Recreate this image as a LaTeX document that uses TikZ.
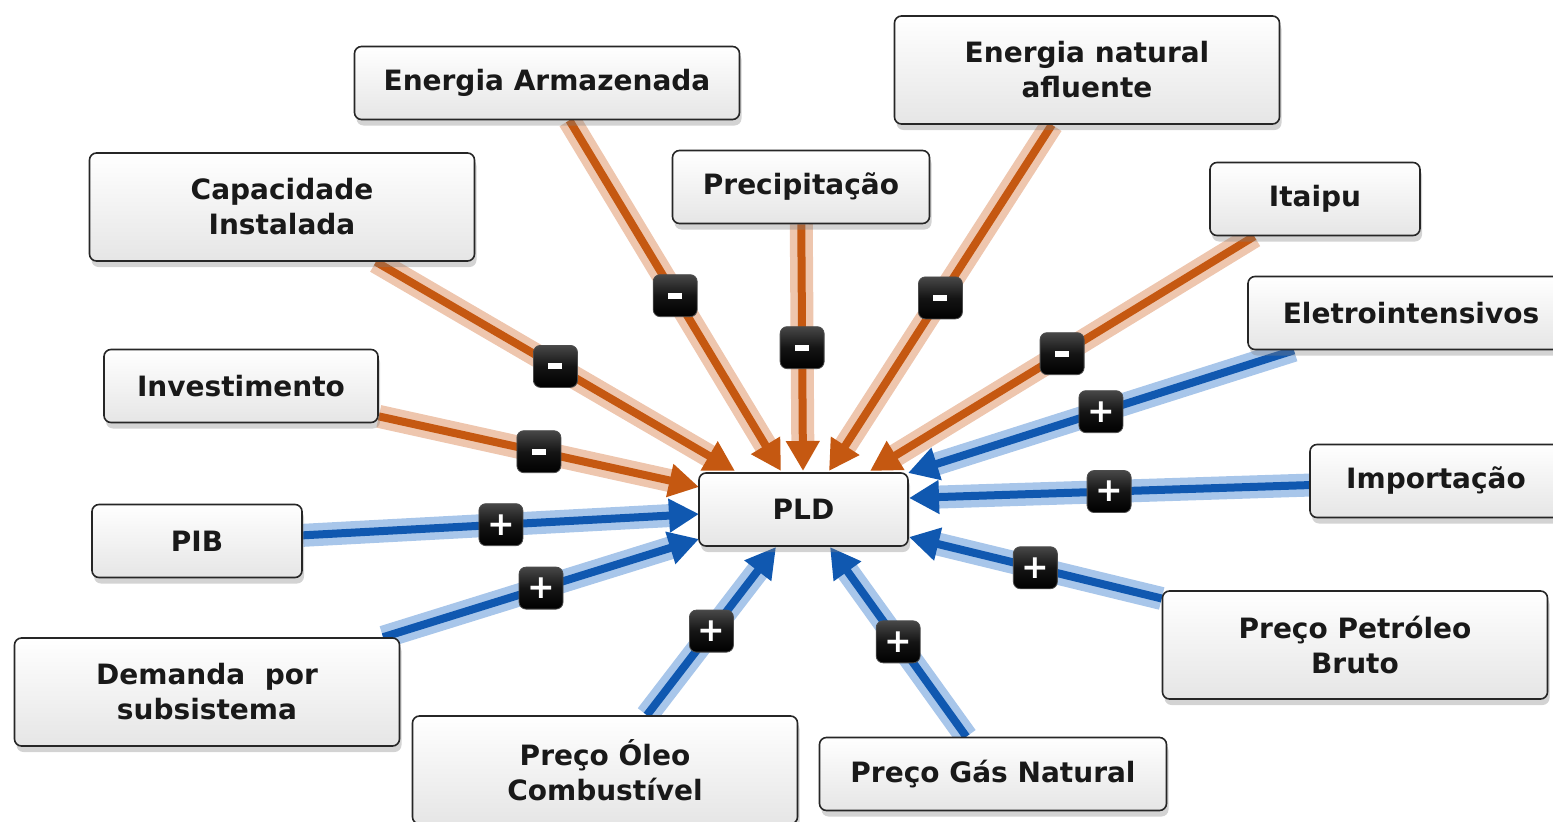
\documentclass[tikz,border=0pt]{standalone}
\usepackage{fontspec}
\setmainfont{DejaVu Sans}
\usetikzlibrary{arrows.meta,shadows,backgrounds}

\definecolor{orcore}{RGB}{197,88,17}
\definecolor{orhalo}{RGB}{238,198,174}
\definecolor{blcore}{RGB}{16,88,176}
\definecolor{blhalo}{RGB}{168,198,234}
\definecolor{boxline}{RGB}{38,38,38}

\tikzset{
  factor/.style={draw=boxline, line width=1.6pt, rounded corners=7pt,
    top color=white, bottom color=black!10,
    drop shadow={shadow xshift=2pt, shadow yshift=-6pt, opacity=0.35},
    font=\fontsize{28}{35}\selectfont\bfseries, align=center,
    inner sep=0pt, text=black!90},
  one/.style={minimum height=73pt},
  two/.style={minimum height=108pt},
  sign/.style={draw=black!70, line width=0.8pt, rounded corners=7pt,
    top color=black!72, bottom color=black, middle color=black!92,
    minimum width=44pt, minimum height=42pt, inner sep=0pt, text=white,
    font=\fontsize{33}{33}\selectfont\bfseries},
  decr/.style={orcore, line width=8pt, -{Triangle[length=30pt,width=32pt]},
    preaction={draw=orhalo, line width=23pt, -, shorten >=26pt}},
  incr/.style={blcore, line width=8pt, -{Triangle[length=30pt,width=32pt]},
    preaction={draw=blhalo, line width=23pt, -, shorten >=26pt}},
}
\newcommand{\minussign}{\rule{14pt}{6pt}}

\begin{document}
\begin{tikzpicture}[x=1pt,y=-1pt]
\useasboundingbox (0,0) rectangle (1553,822);
\clip (0,0) rectangle (1553,822);

% factor boxes
\node[factor, one, minimum width=385pt] (earm)   at (547,83)    {Energia Armazenada};
\node[factor, two, minimum width=385pt] (ena)    at (1087,70)   {Energia natural\\afluente};
\node[factor, two, minimum width=385pt] (cap)    at (282,207)   {Capacidade\\Instalada};
\node[factor, one, minimum width=257pt] (prec)   at (801,187)   {Precipitação};
\node[factor, one, minimum width=210pt] (itaipu) at (1315,199)  {Itaipu};
\node[factor, one, minimum width=326pt] (eletro) at (1411,313)  {Eletrointensivos};
\node[factor, one, minimum width=274pt] (inv)    at (241,386)   {Investimento};
\node[factor, one, minimum width=209pt] (pld)    at (803.5,509.5) {PLD};
\node[factor, one, minimum width=252pt] (imp)    at (1436,481)  {Importação};
\node[factor, one, minimum width=210pt] (pib)    at (197,541)   {PIB};
\node[factor, two, minimum width=385pt] (petro)  at (1355,645)  {Preço Petróleo\\Bruto};
\node[factor, two, minimum width=385pt] (dem)    at (207,692)   {Demanda\ \ por\\subsistema};
\node[factor, two, minimum width=385pt] (oleo)   at (605,770)   {Preço Óleo\\Combustível};
\node[factor, one, minimum width=347pt] (gas)    at (993,774)   {Preço Gás Natural};

% arrow tips on the PLD box
\coordinate (tInv)  at (699,487);
\coordinate (tCap)  at (735,471);
\coordinate (tEarm) at (781,471);
\coordinate (tPrec) at (803,471);
\coordinate (tEna)  at (829,471);
\coordinate (tIta)  at (870,471);
\coordinate (tEle)  at (908,473);
\coordinate (tImp)  at (909,498);
\coordinate (tPet)  at (909,537);
\coordinate (tGas)  at (830,547);
\coordinate (tOleo) at (776,547);
\coordinate (tDem)  at (699,539);
\coordinate (tPib)  at (699,514);

\begin{scope}[on background layer]
  % negative influences
  \draw[decr] (inv)    -- node[sign]{\minussign} (tInv);
  \draw[decr] (cap)    -- node[sign]{\minussign} (tCap);
  \draw[decr] (earm)   -- node[sign]{\minussign} (tEarm);
  \draw[decr] (prec)   -- node[sign]{\minussign} (tPrec);
  \draw[decr] (ena)    -- node[sign]{\minussign} (tEna);
  \draw[decr] (itaipu) -- node[sign]{\minussign} (tIta);
  % positive influences
  \draw[incr] (eletro) -- node[sign]{+} (tEle);
  \draw[incr] (imp)    -- node[sign]{+} (tImp);
  \draw[incr] (petro)  -- node[sign]{+} (tPet);
  \draw[incr] (gas)    -- node[sign]{+} (tGas);
  \draw[incr] (oleo)   -- node[sign]{+} (tOleo);
  \draw[incr] (dem)    -- node[sign]{+} (tDem);
  \draw[incr] (pib)    -- node[sign]{+} (tPib);
\end{scope}
\end{tikzpicture}
\end{document}
